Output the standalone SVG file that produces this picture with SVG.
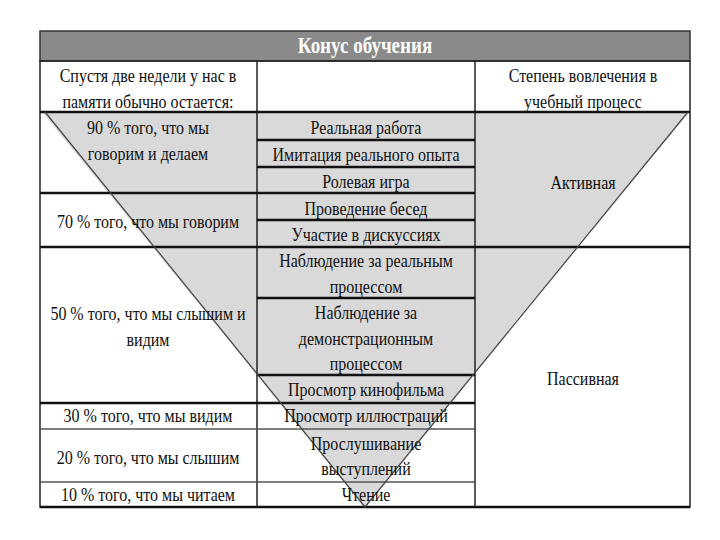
<svg xmlns="http://www.w3.org/2000/svg" width="720" height="540" viewBox="0 0 720 540">
<style>
text{font-family:"Liberation Serif","DejaVu Serif",serif;font-size:16px;fill:#111;text-anchor:middle;transform:scaleY(1.2);transform-box:fill-box;transform-origin:center}
.h{font-size:19px;font-weight:bold;fill:#fff}
.thin{stroke:#222;stroke-width:1.5;fill:none}
.thick{stroke:#111;stroke-width:2.6;fill:none}
.grey{stroke:#555;stroke-width:1.3;fill:none}
.diag{stroke:#444;stroke-width:1.2;fill:none}
</style>
<rect width="720" height="540" fill="#fff"/>
<polygon id="cone" points="42,112 689,112 365,507" fill="#d9d9d9"/>
<g id="header">
<rect x="40" y="31" width="650" height="30" fill="#8a8a8a" stroke="#333" stroke-width="1.5"/>
<text class="h" x="365" y="52">Конус обучения</text>
</g>
<g id="lines">
<rect x="40" y="61" width="650" height="446" class="thin"/>
<line x1="40" y1="507" x2="690" y2="507" class="thick"/>
<line x1="257" y1="61" x2="257" y2="507" class="thin"/>
<line x1="475" y1="61" x2="475" y2="507" class="thin"/>
<line x1="40" y1="112" x2="690" y2="112" class="thick"/>
<line x1="257" y1="140" x2="475" y2="140" class="thick"/>
<line x1="257" y1="167" x2="475" y2="167" class="thick"/>
<line x1="40" y1="193" x2="475" y2="193" class="thick"/>
<line x1="257" y1="220" x2="475" y2="220" class="thick"/>
<line x1="40" y1="247" x2="690" y2="247" class="thick"/>
<line x1="257" y1="298" x2="475" y2="298" class="thick"/>
<line x1="257" y1="375" x2="475" y2="375" class="thick"/>
<line x1="40" y1="403" x2="475" y2="403" class="thick"/>
<line x1="40" y1="429" x2="475" y2="429" class="grey"/>
<line x1="40" y1="482" x2="475" y2="482" class="grey"/>
<line x1="45" y1="112" x2="365" y2="507" class="diag"/>
<line x1="688" y1="112" x2="365" y2="507" class="diag"/>
</g>
<g id="left-head"><text x="148" y="81">Спустя две недели у нас в</text><text x="148" y="107">памяти обычно остается:</text></g>
<g id="left-90"><text x="148" y="133">90 % того, что мы</text><text x="148" y="159">говорим и делаем</text></g>
<g id="left-70"><text x="148" y="227">70 % того, что мы говорим</text></g>
<g id="left-50"><text x="148" y="319">50 % того, что мы слышим и</text><text x="148" y="345">видим</text></g>
<g id="left-30"><text x="148" y="421">30 % того, что мы видим</text></g>
<g id="left-20"><text x="148" y="463">20 % того, что мы слышим</text></g>
<g id="left-10"><text x="148" y="500">10 % того, что мы читаем</text></g>
<g id="m1"><text x="366" y="133">Реальная работа</text></g>
<g id="m2"><text x="366" y="160">Имитация реального опыта</text></g>
<g id="m3"><text x="366" y="187">Ролевая игра</text></g>
<g id="m4"><text x="366" y="214">Проведение бесед</text></g>
<g id="m5"><text x="366" y="240">Участие в дискуссиях</text></g>
<g id="m6"><text x="366" y="266">Наблюдение за реальным</text><text x="366" y="292">процессом</text></g>
<g id="m7"><text x="366" y="318">Наблюдение за</text><text x="366" y="344">демонстрационным</text><text x="366" y="369">процессом</text></g>
<g id="m8"><text x="366" y="395">Просмотр кинофильма</text></g>
<g id="m9"><text x="366" y="421">Просмотр иллюстраций</text></g>
<g id="m10"><text x="366" y="449">Прослушивание</text><text x="366" y="474">выступлений</text></g>
<g id="m11"><text x="366" y="500">Чтение</text></g>
<g id="right-head"><text x="583" y="81">Степень вовлечения в</text><text x="583" y="107">учебный процесс</text></g>
<g id="right-active"><text x="583" y="188">Активная</text></g>
<g id="right-passive"><text x="583" y="384">Пассивная</text></g>
</svg>
